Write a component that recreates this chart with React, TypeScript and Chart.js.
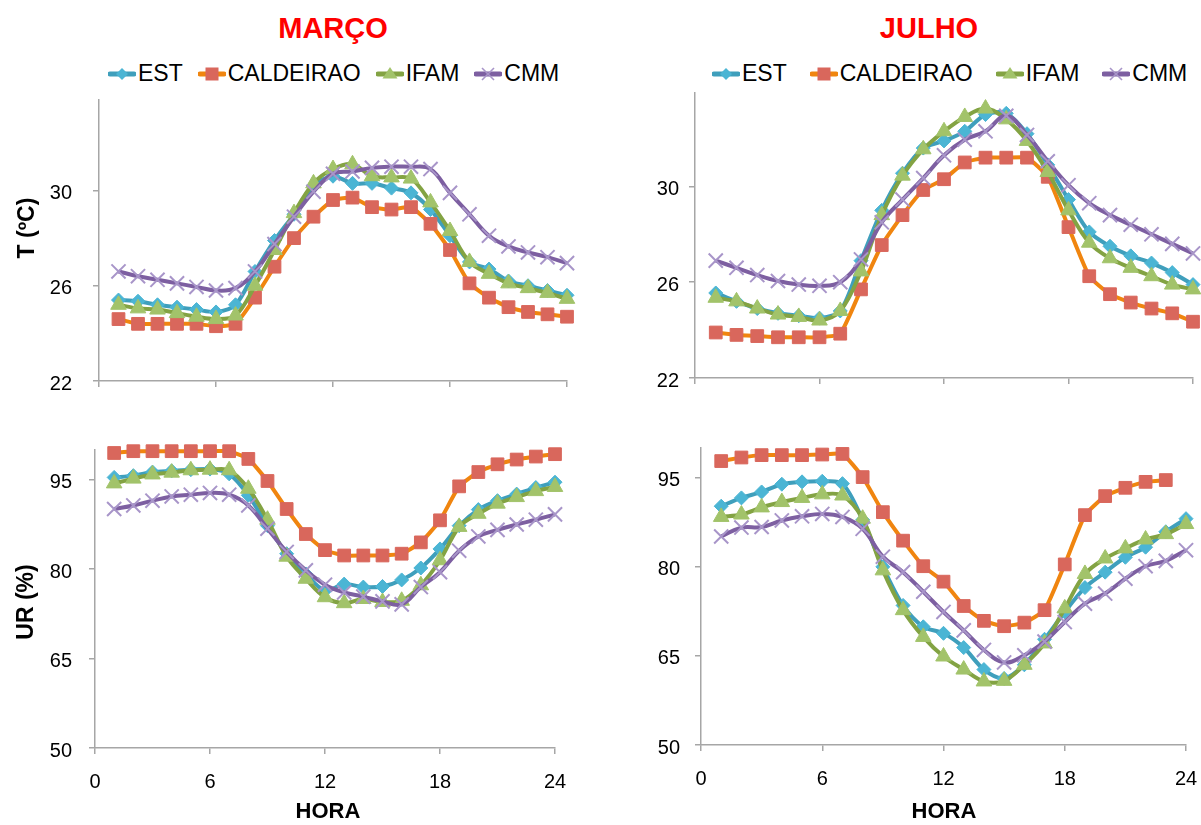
import React, { useEffect, useRef } from "react";
import { Chart, registerables } from "chart.js";

Chart.register(...registerables);

// ---------- DATA ----------
const HOURS = [1, 2, 3, 4, 5, 6, 7, 8, 9, 10, 11, 12, 13, 14, 15, 16, 17, 18, 19, 20, 21, 22, 23, 24];
const SERIES_NAMES = ["EST", "CALDEIRAO", "IFAM", "CMM"];
const X_TICKS = [0, 6, 12, 18, 24];
const T_TICKS = [22, 26, 30];
const UR_TICKS = [50, 65, 80, 95];

const MAR_T_EST = [25.4, 25.35, 25.2, 25.1, 25.0, 24.9, 25.2, 26.6, 27.9, 29.0, 30.2, 30.6, 30.3, 30.3, 30.1, 29.9, 29.2, 28.1, 27.0, 26.7, 26.2, 26.0, 25.8, 25.6];
const MAR_T_CAL = [24.6, 24.4, 24.4, 24.4, 24.4, 24.3, 24.4, 25.5, 26.8, 28.0, 28.9, 29.6, 29.7, 29.3, 29.2, 29.3, 28.6, 27.5, 26.1, 25.5, 25.1, 24.9, 24.8, 24.7];
const MAR_T_IFAM = [25.2, 25.05, 25.0, 24.85, 24.7, 24.6, 24.75, 26.0, 27.5, 29.05, 30.3, 30.9, 31.1, 30.6, 30.55, 30.5, 29.5, 28.3, 27.0, 26.5, 26.1, 25.9, 25.7, 25.45];
const MAR_T_CMM = [26.6, 26.4, 26.25, 26.1, 25.95, 25.8, 25.9, 26.6, 27.75, 28.9, 29.95, 30.7, 30.8, 30.95, 31.0, 31.0, 30.9, 29.9, 29.0, 28.1, 27.65, 27.4, 27.2, 26.95];

const JUL_T_EST = [25.55, 25.2, 24.9, 24.7, 24.6, 24.5, 24.8, 26.9, 29.0, 30.55, 31.6, 31.9, 32.3, 33.0, 33.05, 32.2, 30.9, 29.45, 28.1, 27.5, 27.1, 26.8, 26.4, 25.9];
const JUL_T_CAL = [23.9, 23.8, 23.75, 23.7, 23.7, 23.7, 23.85, 25.7, 27.55, 28.8, 29.85, 30.3, 31.0, 31.2, 31.2, 31.2, 30.4, 28.3, 26.25, 25.5, 25.15, 24.9, 24.7, 24.35];
const JUL_T_IFAM = [25.35, 25.2, 24.9, 24.65, 24.55, 24.4, 24.8, 26.45, 28.8, 30.45, 31.55, 32.3, 32.9, 33.25, 32.8, 31.9, 30.6, 29.0, 27.65, 27.0, 26.6, 26.25, 25.9, 25.7];
const JUL_T_CMM = [26.9, 26.6, 26.3, 26.05, 25.9, 25.85, 26.0, 26.95, 28.5, 29.45, 30.35, 31.3, 31.95, 32.3, 32.95, 32.15, 31.05, 30.05, 29.3, 28.8, 28.4, 28.0, 27.6, 27.2];

const MAR_UR_EST = [95.4, 95.7, 96.3, 96.5, 96.7, 96.8, 96.0, 92.4, 87.3, 82.6, 79.2, 76.4, 77.5, 77.0, 77.1, 78.2, 80.2, 83.4, 87.3, 90.0, 91.5, 92.6, 93.7, 94.6];
const MAR_UR_CAL = [99.5, 99.8, 99.8, 99.8, 99.8, 99.8, 99.8, 98.5, 94.8, 90.1, 85.9, 83.2, 82.3, 82.3, 82.3, 82.6, 84.5, 88.2, 93.9, 96.3, 97.6, 98.4, 98.9, 99.3];
const MAR_UR_IFAM = [94.4, 95.2, 95.9, 96.2, 96.6, 96.7, 96.6, 93.5, 88.3, 82.1, 78.4, 75.3, 74.3, 75.0, 74.5, 74.7, 77.3, 81.5, 87.1, 89.3, 91.0, 92.1, 93.1, 93.8];
const MAR_UR_CMM = [90.1, 90.7, 91.5, 92.2, 92.5, 92.8, 92.5, 90.7, 86.8, 82.9, 79.8, 77.4, 76.1, 75.4, 74.6, 74.1, 77.0, 79.5, 83.1, 85.5, 86.6, 87.5, 88.3, 89.2];

const JUL_UR_EST = [90.2, 91.6, 92.6, 93.9, 94.3, 94.4, 94.0, 87.9, 80.0, 73.5, 69.9, 68.8, 66.4, 62.7, 61.2, 63.5, 67.8, 72.4, 76.5, 79.1, 81.6, 83.3, 85.9, 88.1];
const JUL_UR_CAL = [97.8, 98.4, 98.8, 98.8, 98.8, 98.9, 99.0, 95.1, 89.2, 84.4, 80.1, 77.5, 73.4, 70.9, 70.0, 70.6, 72.7, 80.4, 88.7, 91.9, 93.3, 94.3, 94.6];
const JUL_UR_IFAM = [88.4, 88.8, 90.0, 90.9, 91.6, 92.2, 92.0, 88.1, 79.4, 72.7, 68.2, 64.9, 62.7, 60.7, 60.8, 63.5, 67.1, 73.0, 78.8, 81.4, 83.1, 84.6, 85.5, 87.2];
const JUL_UR_CMM = [85.1, 86.6, 86.7, 87.8, 88.5, 88.9, 88.4, 86.4, 81.7, 79.1, 75.8, 72.4, 69.3, 66.0, 63.9, 65.1, 67.4, 70.7, 73.8, 75.5, 78.0, 80.1, 81.0, 82.8];

// ---------- STYLES ----------
const FONT = "'Liberation Sans', Arial, Helvetica, sans-serif";
const AXIS = "#a6a6a6";
const STYLES = [
  { line: "#3f9fbc", fill: "#4bb5d4", edge: "#4bb5d4", shape: "rectRot", r: 7, bw: 1, tension: 0.3, order: 3 },
  { line: "#f0850f", fill: "#d9675c", edge: "#d9675c", shape: "rect", r: 9, bw: 1, tension: 0.15, order: 2 },
  { line: "#83a343", fill: "#a2c36a", edge: "#a2c36a", shape: "triangle", r: 9, bw: 1, tension: 0.35, order: 1 },
  { line: "#7d5fa1", fill: "#a895c9", edge: "#a895c9", shape: "crossRot", r: 10, bw: 2, tension: 0.4, order: 0 },
];

type Rect = { left: number; top: number; right: number; bottom: number };
type PanelProps = {
  plot: Rect;
  yMin: number;
  yMax: number;
  yTicks: number[];
  showX: boolean;
  series: number[][];
  yPad: number;
};

function Panel(p: PanelProps) {
  const ref = useRef<HTMLCanvasElement | null>(null);
  const YW = 80;
  const PT = 45;
  const PR = 45;
  const XH = p.showX ? 55 : 45;
  const cl = p.plot.left - YW;
  const ct = p.plot.top - PT;
  const cw = Math.round(p.plot.right - p.plot.left + YW + PR);
  const ch = Math.round(p.plot.bottom - p.plot.top + PT + XH);

  useEffect(() => {
    if (!ref.current) return;
    const chart = new Chart(ref.current, {
      type: "line",
      data: {
        datasets: p.series.map((vals, i) => {
          const s = STYLES[i];
          return {
            label: SERIES_NAMES[i],
            data: vals.map((v, j) => ({ x: HOURS[j], y: v })),
            borderColor: s.line,
            backgroundColor: s.fill,
            borderWidth: 4,
            tension: s.tension,
            pointStyle: s.shape as any,
            pointRadius: s.r,
            pointBackgroundColor: s.fill,
            pointBorderColor: s.edge,
            pointBorderWidth: s.bw,
            clip: false as any,
            order: s.order,
          };
        }),
      },
      options: {
        responsive: false,
        animation: false,
        devicePixelRatio: 1,
        layout: { autoPadding: false, padding: { top: PT, right: PR, left: 0, bottom: 0 } } as any,
        plugins: { legend: { display: false }, tooltip: { enabled: false } },
        scales: {
          x: {
            type: "linear",
            min: 0,
            max: 24,
            afterBuildTicks: (s: any) => {
              s.ticks = X_TICKS.map((v) => ({ value: v }));
            },
            afterFit: (s: any) => {
              s.height = XH;
            },
            ticks: {
              display: p.showX,
              autoSkip: false,
              maxRotation: 0,
              padding: 16,
              color: "#000",
              font: { family: FONT, size: 20 },
            },
            grid: { drawOnChartArea: false, drawTicks: true, tickLength: 6, color: AXIS, lineWidth: 1.5 },
            border: { color: AXIS, width: 1.5 },
          },
          y: {
            type: "linear",
            min: p.yMin,
            max: p.yMax,
            afterBuildTicks: (s: any) => {
              s.ticks = p.yTicks.map((v) => ({ value: v }));
            },
            afterFit: (s: any) => {
              s.width = YW;
            },
            ticks: {
              padding: p.yPad,
              labelOffset: 3,
              color: "#000",
              font: { family: FONT, size: 20 },
            },
            grid: { drawOnChartArea: false, drawTicks: true, tickLength: 6, color: AXIS, lineWidth: 1.5 },
            border: { color: AXIS, width: 1.5 },
          },
        },
      } as any,
    });
    return () => chart.destroy();
  }, []);

  return (
    <canvas
      ref={ref}
      width={cw}
      height={ch}
      style={{ position: "absolute", left: cl, top: ct, width: cw, height: ch }}
    />
  );
}

function LegendMarker({ i }: { i: number }) {
  const s = STYLES[i];
  let shape: any = null;
  if (i === 0) shape = <polygon points="14,4 20,10 14,16 8,10" fill={s.fill} />;
  if (i === 1) shape = <rect x={7.5} y={3.5} width={13} height={13} fill={s.fill} />;
  if (i === 2) shape = <polygon points="14,3 21.5,14.5 6.5,14.5" fill={s.fill} />;
  if (i === 3)
    shape = (
      <g stroke={s.fill} strokeWidth={1.6}>
        <line x1={8} y1={4} x2={20} y2={16} />
        <line x1={8} y1={16} x2={20} y2={4} />
      </g>
    );
  return (
    <svg width={28} height={20} style={{ display: "block" }}>
      <line x1={2} y1={10} x2={26} y2={10} stroke={s.line} strokeWidth={5} strokeLinecap="round" />
      {shape}
    </svg>
  );
}

function Legend({ left, top, gap }: { left: number; top: number; gap: number }) {
  return (
    <div
      style={{
        position: "absolute",
        left,
        top,
        display: "flex",
        alignItems: "center",
        gap,
        fontFamily: FONT,
        fontSize: 23,
        lineHeight: "23px",
        color: "#000",
        whiteSpace: "nowrap",
      }}
    >
      {SERIES_NAMES.map((n, i) => (
        <div key={n} style={{ display: "flex", alignItems: "center", gap: 2 }}>
          <LegendMarker i={i} />
          <span>{n}</span>
        </div>
      ))}
    </div>
  );
}

function Text({ x, y, size, bold, color, children, rotate }: any) {
  return (
    <div
      style={{
        position: "absolute",
        left: x,
        top: y,
        transform: `translate(-50%, -50%)${rotate ? " rotate(-90deg)" : ""}`,
        fontFamily: FONT,
        fontSize: size,
        lineHeight: `${size}px`,
        fontWeight: bold ? "bold" : "normal",
        color: color || "#000",
        whiteSpace: "nowrap",
      }}
    >
      {children}
    </div>
  );
}

export default function App() {
  useEffect(() => {
    document.body.style.margin = "0";
    document.body.style.overflow = "hidden";
  }, []);
  return (
    <div
      style={{
        position: "absolute",
        left: 0,
        top: 0,
        width: 1201,
        height: 825,
        overflow: "hidden",
        background: "#fff",
      }}
    >
      <Text x={333} y={28} size={29} bold color="#ff0000">MARÇO</Text>
      <Text x={929} y={28} size={29} bold color="#ff0000">JULHO</Text>
      <Legend left={108} top={62} gap={15} />
      <Legend left={712} top={62} gap={23} />

      <Panel
        plot={{ left: 99, top: 100, right: 567, bottom: 381.3 }}
        yMin={22}
        yMax={33.8}
        yTicks={T_TICKS}
        showX={false}
        series={[MAR_T_EST, MAR_T_CAL, MAR_T_IFAM, MAR_T_CMM]}
        yPad={21}
      />
      <Panel
        plot={{ left: 695, top: 93.3, right: 1193, bottom: 378.7 }}
        yMin={22}
        yMax={33.9}
        yTicks={T_TICKS}
        showX={false}
        series={[JUL_T_EST, JUL_T_CAL, JUL_T_IFAM, JUL_T_CMM]}
        yPad={10}
      />
      <Panel
        plot={{ left: 95, top: 449.5, right: 555, bottom: 747.3 }}
        yMin={50}
        yMax={100}
        yTicks={UR_TICKS}
        showX={true}
        series={[MAR_UR_EST, MAR_UR_CAL, MAR_UR_IFAM, MAR_UR_CMM]}
        yPad={17}
      />
      <Panel
        plot={{ left: 700.7, top: 447.6, right: 1186, bottom: 745 }}
        yMin={50}
        yMax={100}
        yTicks={UR_TICKS}
        showX={true}
        series={[JUL_UR_EST, JUL_UR_CAL, JUL_UR_IFAM, JUL_UR_CMM]}
        yPad={15}
      />

      <Text x={26} y={228} size={23} bold rotate>T (ºC)</Text>
      <Text x={25} y={602} size={23} bold rotate>UR (%)</Text>
      <Text x={328} y={811} size={22} bold>HORA</Text>
      <Text x={944} y={811} size={22} bold>HORA</Text>
    </div>
  );
}
